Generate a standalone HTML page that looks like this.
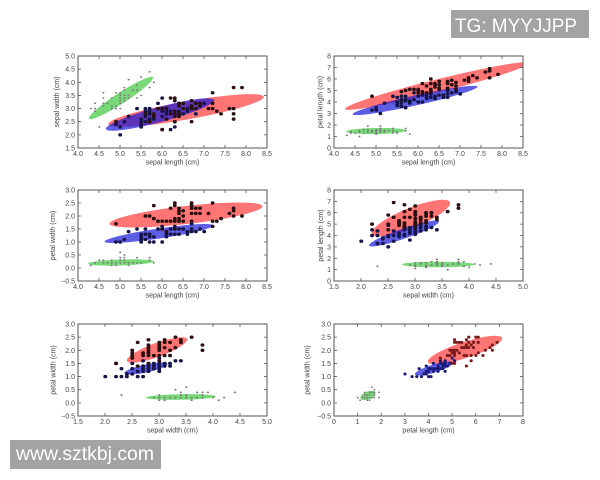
<!DOCTYPE html>
<html><head><meta charset="utf-8"><style>
html,body{margin:0;padding:0;background:#fff;}
svg{display:block;}
text{font-family:"Liberation Sans","DejaVu Sans",sans-serif;}
.tk{font-size:7px;fill:#444;}
.tt{font-size:7px;fill:#444;}
.s{fill:none;stroke:#7a7a7a;stroke-width:1.7;stroke-linecap:round;vector-effect:non-scaling-stroke;}
.v{fill:none;stroke:#15154a;stroke-width:3.4;stroke-linecap:round;vector-effect:non-scaling-stroke;}
.g{fill:none;stroke:#2a1010;stroke-width:3.4;stroke-linecap:round;vector-effect:non-scaling-stroke;}
.fr{fill:none;stroke:#555;stroke-width:1;}
.ti{fill:none;stroke:#555;stroke-width:.8;}
.er{fill:#ff2a2a;fill-opacity:.65;}
.eb{fill:#1a1ad8;fill-opacity:.7;}
.eg{fill:#20c020;fill-opacity:.6;}
</style></head><body>
<svg width="600" height="480" viewBox="0 0 600 480" xmlns="http://www.w3.org/2000/svg">
<defs>
<clipPath id="c1"><rect x="78" y="56" width="189" height="92"/></clipPath>
<clipPath id="c2"><rect x="334" y="56" width="189" height="92"/></clipPath>
<clipPath id="c3"><rect x="78" y="190" width="189" height="91"/></clipPath>
<clipPath id="c4"><rect x="334" y="190" width="189" height="91"/></clipPath>
<clipPath id="c5"><rect x="78" y="324" width="189" height="92"/></clipPath>
<clipPath id="c6"><rect x="334" y="324" width="189" height="92"/></clipPath>
</defs>
<rect width="600" height="480" fill="#fff"/>

<!-- PANEL 1 -->
<g clip-path="url(#c1)">
<ellipse class="er" cx="186" cy="110.5" rx="79" ry="9" transform="rotate(-10 186 110.5)"/>
<ellipse class="eb" cx="160" cy="114.5" rx="56" ry="7.5" transform="rotate(-15 160 114.5)"/>
<ellipse class="eg" cx="121" cy="98" rx="38" ry="5.5" transform="rotate(-33 121 98)"/>
<g transform="translate(78,148) scale(42,-26.286) translate(-4,-1.5)">
<path class="s" vector-effect="non-scaling-stroke" d="M5.1 3.5h.01M4.9 3h.01M4.7 3.2h.01M4.6 3.1h.01M5 3.6h.01M5.4 3.9h.01M4.6 3.4h.01M5 3.4h.01M4.4 2.9h.01M4.9 3.1h.01M5.4 3.7h.01M4.8 3.4h.01M4.8 3h.01M4.3 3h.01M5.8 4h.01M5.7 4.4h.01M5.4 3.9h.01M5.1 3.5h.01M5.7 3.8h.01M5.1 3.8h.01M5.4 3.4h.01M5.1 3.7h.01M4.6 3.6h.01M5.1 3.3h.01M4.8 3.4h.01M5 3h.01M5 3.4h.01M5.2 3.5h.01M5.2 3.4h.01M4.7 3.2h.01M4.8 3.1h.01M5.4 3.4h.01M5.2 4.1h.01M5.5 4.2h.01M4.9 3.1h.01M5 3.2h.01M5.5 3.5h.01M4.9 3.6h.01M4.4 3h.01M5.1 3.4h.01M5 3.5h.01M4.5 2.3h.01M4.4 3.2h.01M5 3.5h.01M5.1 3.8h.01M4.8 3h.01M5.1 3.8h.01M4.6 3.2h.01M5.3 3.7h.01M5 3.3h.01"/>
<path class="v" vector-effect="non-scaling-stroke" d="M7 3.2h.01M6.4 3.2h.01M6.9 3.1h.01M5.5 2.3h.01M6.5 2.8h.01M5.7 2.8h.01M6.3 3.3h.01M4.9 2.4h.01M6.6 2.9h.01M5.2 2.7h.01M5 2h.01M5.9 3h.01M6 2.2h.01M6.1 2.9h.01M5.6 2.9h.01M6.7 3.1h.01M5.6 3h.01M5.8 2.7h.01M6.2 2.2h.01M5.6 2.5h.01M5.9 3.2h.01M6.1 2.8h.01M6.3 2.5h.01M6.1 2.8h.01M6.4 2.9h.01M6.6 3h.01M6.8 2.8h.01M6.7 3h.01M6 2.9h.01M5.7 2.6h.01M5.5 2.4h.01M5.5 2.4h.01M5.8 2.7h.01M6 2.7h.01M5.4 3h.01M6 3.4h.01M6.7 3.1h.01M6.3 2.3h.01M5.6 3h.01M5.5 2.5h.01M5.5 2.6h.01M6.1 3h.01M5.8 2.6h.01M5 2.3h.01M5.6 2.7h.01M5.7 3h.01M5.7 2.9h.01M6.2 2.9h.01M5.1 2.5h.01M5.7 2.8h.01"/>
<path class="g" vector-effect="non-scaling-stroke" d="M6.3 3.3h.01M5.8 2.7h.01M7.1 3h.01M6.3 2.9h.01M6.5 3h.01M7.6 3h.01M4.9 2.5h.01M7.3 2.9h.01M6.7 2.5h.01M7.2 3.6h.01M6.5 3.2h.01M6.4 2.7h.01M6.8 3h.01M5.7 2.5h.01M5.8 2.8h.01M6.4 3.2h.01M6.5 3h.01M7.7 3.8h.01M7.7 2.6h.01M6 2.2h.01M6.9 3.2h.01M5.6 2.8h.01M7.7 2.8h.01M6.3 2.7h.01M6.7 3.3h.01M7.2 3.2h.01M6.2 2.8h.01M6.1 3h.01M6.4 2.8h.01M7.2 3h.01M7.4 2.8h.01M7.9 3.8h.01M6.4 2.8h.01M6.3 2.8h.01M6.1 2.6h.01M7.7 3h.01M6.3 3.4h.01M6.4 3.1h.01M6 3h.01M6.9 3.1h.01M6.7 3.1h.01M6.9 3.1h.01M5.8 2.7h.01M6.8 3.2h.01M6.7 3.3h.01M6.7 3h.01M6.3 2.5h.01M6.5 3h.01M6.2 3.4h.01M5.9 3h.01"/>
</g></g>
<rect class="fr" x="78" y="56" width="189" height="92"/>
<path class="ti" d="M99 148v-3M120 148v-3M141 148v-3M162 148v-3M183 148v-3M204 148v-3M225 148v-3M246 148v-3M99 56v3M120 56v3M141 56v3M162 56v3M183 56v3M204 56v3M225 56v3M246 56v3M78 134.86h3M78 121.71h3M78 108.57h3M78 95.43h3M78 82.29h3M78 69.14h3M267 134.86h-3M267 121.71h-3M267 108.57h-3M267 95.43h-3M267 82.29h-3M267 69.14h-3"/>
<g class="tk" text-anchor="middle"><text x="78" y="156">4.0</text><text x="99" y="156">4.5</text><text x="120" y="156">5.0</text><text x="141" y="156">5.5</text><text x="162" y="156">6.0</text><text x="183" y="156">6.5</text><text x="204" y="156">7.0</text><text x="225" y="156">7.5</text><text x="246" y="156">8.0</text><text x="267" y="156">8.5</text></g>
<g class="tk" text-anchor="end"><text x="75" y="150.5">1.5</text><text x="75" y="137.4">2.0</text><text x="75" y="124.2">2.5</text><text x="75" y="111.1">3.0</text><text x="75" y="97.9">3.5</text><text x="75" y="84.8">4.0</text><text x="75" y="71.6">4.5</text><text x="75" y="58.5">5.0</text></g>
<text class="tt" x="172.5" y="164.5" text-anchor="middle">sepal length (cm)</text>
<text class="tt" x="59" y="102" text-anchor="middle" transform="rotate(-90 59 102)">sepal width (cm)</text>

<!-- PANEL 2 -->
<g clip-path="url(#c2)">
<ellipse class="er" cx="437" cy="86" rx="95" ry="6.5" transform="rotate(-14 437 86)"/>
<ellipse class="eb" cx="415" cy="100.5" rx="64" ry="5" transform="rotate(-12.5 415 100.5)"/>
<ellipse class="eg" cx="376" cy="131" rx="30" ry="3" transform="rotate(-1 376 131)"/>
<g transform="translate(334,148) scale(42,-11.5) translate(-4,0)">
<path class="s" vector-effect="non-scaling-stroke" d="M5.1 1.4h.01M4.9 1.4h.01M4.7 1.3h.01M4.6 1.5h.01M5 1.4h.01M5.4 1.7h.01M4.6 1.4h.01M5 1.5h.01M4.4 1.4h.01M4.9 1.5h.01M5.4 1.5h.01M4.8 1.6h.01M4.8 1.4h.01M4.3 1.1h.01M5.8 1.2h.01M5.7 1.5h.01M5.4 1.3h.01M5.1 1.4h.01M5.7 1.7h.01M5.1 1.5h.01M5.4 1.7h.01M5.1 1.5h.01M4.6 1h.01M5.1 1.7h.01M4.8 1.9h.01M5 1.6h.01M5 1.6h.01M5.2 1.5h.01M5.2 1.4h.01M4.7 1.6h.01M4.8 1.6h.01M5.4 1.5h.01M5.2 1.5h.01M5.5 1.4h.01M4.9 1.5h.01M5 1.2h.01M5.5 1.3h.01M4.9 1.4h.01M4.4 1.3h.01M5.1 1.5h.01M5 1.3h.01M4.5 1.3h.01M4.4 1.3h.01M5 1.6h.01M5.1 1.9h.01M4.8 1.4h.01M5.1 1.6h.01M4.6 1.4h.01M5.3 1.5h.01M5 1.4h.01"/>
<path class="v" vector-effect="non-scaling-stroke" d="M7 4.7h.01M6.4 4.5h.01M6.9 4.9h.01M5.5 4h.01M6.5 4.6h.01M5.7 4.5h.01M6.3 4.7h.01M4.9 3.3h.01M6.6 4.6h.01M5.2 3.9h.01M5 3.5h.01M5.9 4.2h.01M6 4h.01M6.1 4.7h.01M5.6 3.6h.01M6.7 4.4h.01M5.6 4.5h.01M5.8 4.1h.01M6.2 4.5h.01M5.6 3.9h.01M5.9 4.8h.01M6.1 4h.01M6.3 4.9h.01M6.1 4.7h.01M6.4 4.3h.01M6.6 4.4h.01M6.8 4.8h.01M6.7 5h.01M6 4.5h.01M5.7 3.5h.01M5.5 3.8h.01M5.5 3.7h.01M5.8 3.9h.01M6 5.1h.01M5.4 4.5h.01M6 4.5h.01M6.7 4.7h.01M6.3 4.4h.01M5.6 4.1h.01M5.5 4h.01M5.5 4.4h.01M6.1 4.6h.01M5.8 4h.01M5 3.3h.01M5.6 4.2h.01M5.7 4.2h.01M5.7 4.2h.01M6.2 4.3h.01M5.1 3h.01M5.7 4.1h.01"/>
<path class="g" vector-effect="non-scaling-stroke" d="M6.3 6h.01M5.8 5.1h.01M7.1 5.9h.01M6.3 5.6h.01M6.5 5.8h.01M7.6 6.6h.01M4.9 4.5h.01M7.3 6.3h.01M6.7 5.8h.01M7.2 6.1h.01M6.5 5.1h.01M6.4 5.3h.01M6.8 5.5h.01M5.7 5h.01M5.8 5.1h.01M6.4 5.3h.01M6.5 5.5h.01M7.7 6.7h.01M7.7 6.9h.01M6 5h.01M6.9 5.7h.01M5.6 4.9h.01M7.7 6.7h.01M6.3 4.9h.01M6.7 5.7h.01M7.2 6h.01M6.2 4.8h.01M6.1 4.9h.01M6.4 5.6h.01M7.2 5.8h.01M7.4 6.1h.01M7.9 6.4h.01M6.4 5.6h.01M6.3 5.1h.01M6.1 5.6h.01M7.7 6.1h.01M6.3 5.6h.01M6.4 5.5h.01M6 4.8h.01M6.9 5.4h.01M6.7 5.6h.01M6.9 5.1h.01M5.8 5.1h.01M6.8 5.9h.01M6.7 5.7h.01M6.7 5.2h.01M6.3 5h.01M6.5 5.2h.01M6.2 5.4h.01M5.9 5.1h.01"/>
</g></g>
<rect class="fr" x="334" y="56" width="189" height="92"/>
<path class="ti" d="M355 148v-3M376 148v-3M397 148v-3M418 148v-3M439 148v-3M460 148v-3M481 148v-3M502 148v-3M355 56v3M376 56v3M397 56v3M418 56v3M439 56v3M460 56v3M481 56v3M502 56v3M334 136.5h3M334 125h3M334 113.5h3M334 102h3M334 90.5h3M334 79h3M334 67.5h3M523 136.5h-3M523 125h-3M523 113.5h-3M523 102h-3M523 90.5h-3M523 79h-3M523 67.5h-3"/>
<g class="tk" text-anchor="middle"><text x="334" y="156">4.0</text><text x="355" y="156">4.5</text><text x="376" y="156">5.0</text><text x="397" y="156">5.5</text><text x="418" y="156">6.0</text><text x="439" y="156">6.5</text><text x="460" y="156">7.0</text><text x="481" y="156">7.5</text><text x="502" y="156">8.0</text><text x="523" y="156">8.5</text></g>
<g class="tk" text-anchor="end"><text x="331" y="150.5">0</text><text x="331" y="139">1</text><text x="331" y="127.5">2</text><text x="331" y="116">3</text><text x="331" y="104.5">4</text><text x="331" y="93">5</text><text x="331" y="81.5">6</text><text x="331" y="70">7</text><text x="331" y="58.5">8</text></g>
<text class="tt" x="428.5" y="164.5" text-anchor="middle">sepal length (cm)</text>
<text class="tt" x="322.5" y="102" text-anchor="middle" transform="rotate(-90 322.5 102)">petal length (cm)</text>

<!-- PANEL 3 -->
<g clip-path="url(#c3)">
<ellipse class="er" cx="186" cy="215" rx="77" ry="9" transform="rotate(-6.5 186 215)"/>
<ellipse class="eb" cx="159" cy="233.5" rx="55" ry="5" transform="rotate(-8.5 159 233.5)"/>
<ellipse class="eg" cx="121" cy="262.5" rx="33" ry="3" transform="rotate(-2 121 262.5)"/>
<g transform="translate(78,281) scale(42,-26) translate(-4,0.5)">
<path class="s" vector-effect="non-scaling-stroke" d="M5.1 .2h.01M4.9 .2h.01M4.7 .2h.01M4.6 .2h.01M5 .2h.01M5.4 .4h.01M4.6 .3h.01M5 .2h.01M4.4 .2h.01M4.9 .1h.01M5.4 .2h.01M4.8 .2h.01M4.8 .1h.01M4.3 .1h.01M5.8 .2h.01M5.7 .4h.01M5.4 .4h.01M5.1 .3h.01M5.7 .3h.01M5.1 .3h.01M5.4 .2h.01M5.1 .4h.01M4.6 .2h.01M5.1 .5h.01M4.8 .2h.01M5 .2h.01M5 .4h.01M5.2 .2h.01M5.2 .2h.01M4.7 .2h.01M4.8 .2h.01M5.4 .4h.01M5.2 .1h.01M5.5 .2h.01M4.9 .2h.01M5 .2h.01M5.5 .2h.01M4.9 .1h.01M4.4 .2h.01M5.1 .2h.01M5 .3h.01M4.5 .3h.01M4.4 .2h.01M5 .6h.01M5.1 .4h.01M4.8 .3h.01M5.1 .2h.01M4.6 .2h.01M5.3 .2h.01M5 .2h.01"/>
<path class="v" vector-effect="non-scaling-stroke" d="M7 1.4h.01M6.4 1.5h.01M6.9 1.5h.01M5.5 1.3h.01M6.5 1.5h.01M5.7 1.3h.01M6.3 1.6h.01M4.9 1h.01M6.6 1.3h.01M5.2 1.4h.01M5 1h.01M5.9 1.5h.01M6 1h.01M6.1 1.4h.01M5.6 1.3h.01M6.7 1.4h.01M5.6 1.5h.01M5.8 1h.01M6.2 1.5h.01M5.6 1.1h.01M5.9 1.8h.01M6.1 1.3h.01M6.3 1.5h.01M6.1 1.2h.01M6.4 1.3h.01M6.6 1.4h.01M6.8 1.4h.01M6.7 1.7h.01M6 1.5h.01M5.7 1h.01M5.5 1.1h.01M5.5 1h.01M5.8 1.2h.01M6 1.6h.01M5.4 1.5h.01M6 1.6h.01M6.7 1.5h.01M6.3 1.3h.01M5.6 1.3h.01M5.5 1.3h.01M5.5 1.2h.01M6.1 1.4h.01M5.8 1.2h.01M5 1h.01M5.6 1.3h.01M5.7 1.2h.01M5.7 1.3h.01M6.2 1.3h.01M5.1 1.1h.01M5.7 1.3h.01"/>
<path class="g" vector-effect="non-scaling-stroke" d="M6.3 2.5h.01M5.8 1.9h.01M7.1 2.1h.01M6.3 1.8h.01M6.5 2.2h.01M7.6 2.1h.01M4.9 1.7h.01M7.3 1.8h.01M6.7 1.8h.01M7.2 2.5h.01M6.5 2h.01M6.4 1.9h.01M6.8 2.1h.01M5.7 2h.01M5.8 2.4h.01M6.4 2.3h.01M6.5 1.8h.01M7.7 2.2h.01M7.7 2.3h.01M6 1.5h.01M6.9 2.3h.01M5.6 2h.01M7.7 2h.01M6.3 1.8h.01M6.7 2.1h.01M7.2 1.8h.01M6.2 1.8h.01M6.1 1.8h.01M6.4 2.1h.01M7.2 1.6h.01M7.4 1.9h.01M7.9 2h.01M6.4 2.2h.01M6.3 1.5h.01M6.1 1.4h.01M7.7 2.3h.01M6.3 2.4h.01M6.4 1.8h.01M6 1.8h.01M6.9 2.1h.01M6.7 2.4h.01M6.9 2.3h.01M5.8 1.9h.01M6.8 2.3h.01M6.7 2.5h.01M6.7 2.3h.01M6.3 1.9h.01M6.5 2h.01M6.2 2.3h.01M5.9 1.8h.01"/>
</g></g>
<rect class="fr" x="78" y="190" width="189" height="91"/>
<path class="ti" d="M99 281v-3M120 281v-3M141 281v-3M162 281v-3M183 281v-3M204 281v-3M225 281v-3M246 281v-3M99 190v3M120 190v3M141 190v3M162 190v3M183 190v3M204 190v3M225 190v3M246 190v3M78 268h3M78 255h3M78 242h3M78 229h3M78 216h3M78 203h3M267 268h-3M267 255h-3M267 242h-3M267 229h-3M267 216h-3M267 203h-3"/>
<g class="tk" text-anchor="middle"><text x="78" y="289">4.0</text><text x="99" y="289">4.5</text><text x="120" y="289">5.0</text><text x="141" y="289">5.5</text><text x="162" y="289">6.0</text><text x="183" y="289">6.5</text><text x="204" y="289">7.0</text><text x="225" y="289">7.5</text><text x="246" y="289">8.0</text><text x="267" y="289">8.5</text></g>
<g class="tk" text-anchor="end"><text x="75" y="283.5">−0.5</text><text x="75" y="270.5">0.0</text><text x="75" y="257.5">0.5</text><text x="75" y="244.5">1.0</text><text x="75" y="231.5">1.5</text><text x="75" y="218.5">2.0</text><text x="75" y="205.5">2.5</text><text x="75" y="192.5">3.0</text></g>
<text class="tt" x="172.5" y="297.5" text-anchor="middle">sepal length (cm)</text>
<text class="tt" x="55" y="235.5" text-anchor="middle" transform="rotate(-90 55 235.5)">petal width (cm)</text>

<!-- PANEL 4 -->
<g clip-path="url(#c4)">
<ellipse class="er" cx="411" cy="218" rx="42" ry="10" transform="rotate(-22 411 218)"/>
<ellipse class="eb" cx="404" cy="233.5" rx="37" ry="5" transform="rotate(-19 404 233.5)"/>
<ellipse class="eg" cx="438" cy="264.5" rx="36" ry="2.8"/>
<g transform="translate(334,281) scale(54,-11.375) translate(-1.5,0)">
<path class="s" vector-effect="non-scaling-stroke" d="M3.5 1.4h.01M3 1.4h.01M3.2 1.3h.01M3.1 1.5h.01M3.6 1.4h.01M3.9 1.7h.01M3.4 1.4h.01M3.4 1.5h.01M2.9 1.4h.01M3.1 1.5h.01M3.7 1.5h.01M3.4 1.6h.01M3 1.4h.01M3 1.1h.01M4 1.2h.01M4.4 1.5h.01M3.9 1.3h.01M3.5 1.4h.01M3.8 1.7h.01M3.8 1.5h.01M3.4 1.7h.01M3.7 1.5h.01M3.6 1h.01M3.3 1.7h.01M3.4 1.9h.01M3 1.6h.01M3.4 1.6h.01M3.5 1.5h.01M3.4 1.4h.01M3.2 1.6h.01M3.1 1.6h.01M3.4 1.5h.01M4.1 1.5h.01M4.2 1.4h.01M3.1 1.5h.01M3.2 1.2h.01M3.5 1.3h.01M3.6 1.4h.01M3 1.3h.01M3.4 1.5h.01M3.5 1.3h.01M2.3 1.3h.01M3.2 1.3h.01M3.5 1.6h.01M3.8 1.9h.01M3 1.4h.01M3.8 1.6h.01M3.2 1.4h.01M3.7 1.5h.01M3.3 1.4h.01"/>
<path class="v" vector-effect="non-scaling-stroke" d="M3.2 4.7h.01M3.2 4.5h.01M3.1 4.9h.01M2.3 4h.01M2.8 4.6h.01M2.8 4.5h.01M3.3 4.7h.01M2.4 3.3h.01M2.9 4.6h.01M2.7 3.9h.01M2 3.5h.01M3 4.2h.01M2.2 4h.01M2.9 4.7h.01M2.9 3.6h.01M3.1 4.4h.01M3 4.5h.01M2.7 4.1h.01M2.2 4.5h.01M2.5 3.9h.01M3.2 4.8h.01M2.8 4h.01M2.5 4.9h.01M2.8 4.7h.01M2.9 4.3h.01M3 4.4h.01M2.8 4.8h.01M3 5h.01M2.9 4.5h.01M2.6 3.5h.01M2.4 3.8h.01M2.4 3.7h.01M2.7 3.9h.01M2.7 5.1h.01M3 4.5h.01M3.4 4.5h.01M3.1 4.7h.01M2.3 4.4h.01M3 4.1h.01M2.5 4h.01M2.6 4.4h.01M3 4.6h.01M2.6 4h.01M2.3 3.3h.01M2.7 4.2h.01M3 4.2h.01M2.9 4.2h.01M2.9 4.3h.01M2.5 3h.01M2.8 4.1h.01"/>
<path class="g" vector-effect="non-scaling-stroke" d="M3.3 6h.01M2.7 5.1h.01M3 5.9h.01M2.9 5.6h.01M3 5.8h.01M3 6.6h.01M2.5 4.5h.01M2.9 6.3h.01M2.5 5.8h.01M3.6 6.1h.01M3.2 5.1h.01M2.7 5.3h.01M3 5.5h.01M2.5 5h.01M2.8 5.1h.01M3.2 5.3h.01M3 5.5h.01M3.8 6.7h.01M2.6 6.9h.01M2.2 5h.01M3.2 5.7h.01M2.8 4.9h.01M2.8 6.7h.01M2.7 4.9h.01M3.3 5.7h.01M3.2 6h.01M2.8 4.8h.01M3 4.9h.01M2.8 5.6h.01M3 5.8h.01M2.8 6.1h.01M3.8 6.4h.01M2.8 5.6h.01M2.8 5.1h.01M2.6 5.6h.01M3 6.1h.01M3.4 5.6h.01M3.1 5.5h.01M3 4.8h.01M3.1 5.4h.01M3.1 5.6h.01M3.1 5.1h.01M2.7 5.1h.01M3.2 5.9h.01M3.3 5.7h.01M3 5.2h.01M2.5 5h.01M3 5.2h.01M3.4 5.4h.01M3 5.1h.01"/>
</g></g>
<rect class="fr" x="334" y="190" width="189" height="91"/>
<path class="ti" d="M361 281v-3M388 281v-3M415 281v-3M442 281v-3M469 281v-3M496 281v-3M361 190v3M388 190v3M415 190v3M442 190v3M469 190v3M496 190v3M334 269.6h3M334 258.25h3M334 246.9h3M334 235.5h3M334 224.1h3M334 212.75h3M334 201.4h3M523 269.6h-3M523 258.25h-3M523 246.9h-3M523 235.5h-3M523 224.1h-3M523 212.75h-3M523 201.4h-3"/>
<g class="tk" text-anchor="middle"><text x="334" y="289">1.5</text><text x="361" y="289">2.0</text><text x="388" y="289">2.5</text><text x="415" y="289">3.0</text><text x="442" y="289">3.5</text><text x="469" y="289">4.0</text><text x="496" y="289">4.5</text><text x="523" y="289">5.0</text></g>
<g class="tk" text-anchor="end"><text x="331" y="283.5">0</text><text x="331" y="272.1">1</text><text x="331" y="260.75">2</text><text x="331" y="249.4">3</text><text x="331" y="238">4</text><text x="331" y="226.6">5</text><text x="331" y="215.25">6</text><text x="331" y="203.9">7</text><text x="331" y="192.5">8</text></g>
<text class="tt" x="428.5" y="297.5" text-anchor="middle">sepal width (cm)</text>
<text class="tt" x="323" y="235.5" text-anchor="middle" transform="rotate(-90 323 235.5)">petal length (cm)</text>

<!-- PANEL 5 -->
<g clip-path="url(#c5)">
<ellipse class="er" cx="157" cy="350" rx="32" ry="7" transform="rotate(-20 157 350)"/>
<ellipse class="eb" cx="146" cy="368.5" rx="22" ry="4" transform="rotate(-12 146 368.5)"/>
<ellipse class="eg" cx="181" cy="397" rx="35" ry="2.8" transform="rotate(-1 181 397)"/>
<g transform="translate(78,416) scale(54,-26.286) translate(-1.5,0.5)">
<path class="s" vector-effect="non-scaling-stroke" d="M3.5 .2h.01M3 .2h.01M3.2 .2h.01M3.1 .2h.01M3.6 .2h.01M3.9 .4h.01M3.4 .3h.01M3.4 .2h.01M2.9 .2h.01M3.1 .1h.01M3.7 .2h.01M3.4 .2h.01M3 .1h.01M3 .1h.01M4 .2h.01M4.4 .4h.01M3.9 .4h.01M3.5 .3h.01M3.8 .3h.01M3.8 .3h.01M3.4 .2h.01M3.7 .4h.01M3.6 .2h.01M3.3 .5h.01M3.4 .2h.01M3 .2h.01M3.4 .4h.01M3.5 .2h.01M3.4 .2h.01M3.2 .2h.01M3.1 .2h.01M3.4 .4h.01M4.1 .1h.01M4.2 .2h.01M3.1 .2h.01M3.2 .2h.01M3.5 .2h.01M3.6 .1h.01M3 .2h.01M3.4 .2h.01M3.5 .3h.01M2.3 .3h.01M3.2 .2h.01M3.5 .6h.01M3.8 .4h.01M3 .3h.01M3.8 .2h.01M3.2 .2h.01M3.7 .2h.01M3.3 .2h.01"/>
<path class="v" vector-effect="non-scaling-stroke" d="M3.2 1.4h.01M3.2 1.5h.01M3.1 1.5h.01M2.3 1.3h.01M2.8 1.5h.01M2.8 1.3h.01M3.3 1.6h.01M2.4 1h.01M2.9 1.3h.01M2.7 1.4h.01M2 1h.01M3 1.5h.01M2.2 1h.01M2.9 1.4h.01M2.9 1.3h.01M3.1 1.4h.01M3 1.5h.01M2.7 1h.01M2.2 1.5h.01M2.5 1.1h.01M3.2 1.8h.01M2.8 1.3h.01M2.5 1.5h.01M2.8 1.2h.01M2.9 1.3h.01M3 1.4h.01M2.8 1.4h.01M3 1.7h.01M2.9 1.5h.01M2.6 1h.01M2.4 1.1h.01M2.4 1h.01M2.7 1.2h.01M2.7 1.6h.01M3 1.5h.01M3.4 1.6h.01M3.1 1.5h.01M2.3 1.3h.01M3 1.3h.01M2.5 1.3h.01M2.6 1.2h.01M3 1.4h.01M2.6 1.2h.01M2.3 1h.01M2.7 1.3h.01M3 1.2h.01M2.9 1.3h.01M2.9 1.3h.01M2.5 1.1h.01M2.8 1.3h.01"/>
<path class="g" vector-effect="non-scaling-stroke" d="M3.3 2.5h.01M2.7 1.9h.01M3 2.1h.01M2.9 1.8h.01M3 2.2h.01M3 2.1h.01M2.5 1.7h.01M2.9 1.8h.01M2.5 1.8h.01M3.6 2.5h.01M3.2 2h.01M2.7 1.9h.01M3 2.1h.01M2.5 2h.01M2.8 2.4h.01M3.2 2.3h.01M3 1.8h.01M3.8 2.2h.01M2.6 2.3h.01M2.2 1.5h.01M3.2 2.3h.01M2.8 2h.01M2.8 2h.01M2.7 1.8h.01M3.3 2.1h.01M3.2 1.8h.01M2.8 1.8h.01M3 1.8h.01M2.8 2.1h.01M3 1.6h.01M2.8 1.9h.01M3.8 2h.01M2.8 2.2h.01M2.8 1.5h.01M2.6 1.4h.01M3 2.3h.01M3.4 2.4h.01M3.1 1.8h.01M3 1.8h.01M3.1 2.1h.01M3.1 2.4h.01M3.1 2.3h.01M2.7 1.9h.01M3.2 2.3h.01M3.3 2.5h.01M3 2.3h.01M2.5 1.9h.01M3 2h.01M3.4 2.3h.01M3 1.8h.01"/>
</g></g>
<rect class="fr" x="78" y="324" width="189" height="92"/>
<path class="ti" d="M105 416v-3M132 416v-3M159 416v-3M186 416v-3M213 416v-3M240 416v-3M105 324v3M132 324v3M159 324v3M186 324v3M213 324v3M240 324v3M78 402.86h3M78 389.71h3M78 376.57h3M78 363.43h3M78 350.29h3M78 337.14h3M267 402.86h-3M267 389.71h-3M267 376.57h-3M267 363.43h-3M267 350.29h-3M267 337.14h-3"/>
<g class="tk" text-anchor="middle"><text x="78" y="424">1.5</text><text x="105" y="424">2.0</text><text x="132" y="424">2.5</text><text x="159" y="424">3.0</text><text x="186" y="424">3.5</text><text x="213" y="424">4.0</text><text x="240" y="424">4.5</text><text x="267" y="424">5.0</text></g>
<g class="tk" text-anchor="end"><text x="75" y="418.5">−0.5</text><text x="75" y="405.4">0.0</text><text x="75" y="392.2">0.5</text><text x="75" y="379.1">1.0</text><text x="75" y="365.9">1.5</text><text x="75" y="352.8">2.0</text><text x="75" y="339.6">2.5</text><text x="75" y="326.5">3.0</text></g>
<text class="tt" x="172.5" y="432.5" text-anchor="middle">sepal width (cm)</text>
<text class="tt" x="55.5" y="370" text-anchor="middle" transform="rotate(-90 55.5 370)">petal width (cm)</text>

<!-- PANEL 6 -->
<g clip-path="url(#c6)">
<ellipse class="er" cx="465" cy="350" rx="39" ry="8" transform="rotate(-18 465 350)"/>
<ellipse class="eb" cx="434" cy="368.5" rx="20" ry="4" transform="rotate(-17 434 368.5)"/>
<ellipse class="eg" cx="368" cy="395.5" rx="8" ry="4" transform="rotate(-20 368 395.5)"/>
<g transform="translate(334,416) scale(23.625,-26.286) translate(0,0.5)">
<path class="s" vector-effect="non-scaling-stroke" d="M1.4 .2h.01M1.3 .2h.01M1.5 .2h.01M1.7 .4h.01M1.4 .3h.01M1.5 .1h.01M1.6 .2h.01M1.4 .1h.01M1.1 .1h.01M1.2 .2h.01M1.5 .4h.01M1.3 .4h.01M1.7 .3h.01M1.5 .3h.01M1.7 .2h.01M1 .2h.01M1.7 .5h.01M1.9 .2h.01M1.6 .4h.01M1.5 .2h.01M1.3 .3h.01M1.6 .6h.01M1.9 .4h.01M1.4 .2h.01"/>
<path class="v" style="stroke:#1c1c78;stroke-width:3" vector-effect="non-scaling-stroke" d="M4.7 1.4h.01M4.5 1.5h.01M4.9 1.5h.01M4 1.3h.01M4.6 1.5h.01M4.5 1.3h.01M4.7 1.6h.01M3.3 1h.01M4.6 1.3h.01M3.9 1.4h.01M3.5 1h.01M4.2 1.5h.01M4 1h.01M4.7 1.4h.01M3.6 1.3h.01M4.4 1.4h.01M4.5 1.5h.01M4.1 1h.01M4.5 1.5h.01M3.9 1.1h.01M4.8 1.8h.01M4 1.3h.01M4.9 1.5h.01M4.7 1.2h.01M4.3 1.3h.01M4.4 1.4h.01M4.8 1.4h.01M5 1.7h.01M4.5 1.5h.01M3.5 1h.01M3.8 1.1h.01M3.7 1h.01M3.9 1.2h.01M5.1 1.6h.01M4.5 1.5h.01M4.5 1.6h.01M4.7 1.5h.01M4.4 1.3h.01M4.1 1.3h.01M4 1.3h.01M4.4 1.2h.01M4.6 1.4h.01M4 1.2h.01M3.3 1h.01M4.2 1.3h.01M4.2 1.2h.01M4.2 1.3h.01M4.3 1.3h.01M3 1.1h.01M4.1 1.3h.01"/>
<path class="g" style="stroke:#7a1c1c;stroke-width:3" vector-effect="non-scaling-stroke" d="M6 2.5h.01M5.1 1.9h.01M5.9 2.1h.01M5.6 1.8h.01M5.8 2.2h.01M6.6 2.1h.01M4.5 1.7h.01M6.3 1.8h.01M5.8 1.8h.01M6.1 2.5h.01M5.1 2h.01M5.3 1.9h.01M5.5 2.1h.01M5 2h.01M5.1 2.4h.01M5.3 2.3h.01M5.5 1.8h.01M6.7 2.2h.01M6.9 2.3h.01M5 1.5h.01M5.7 2.3h.01M4.9 2h.01M6.7 2h.01M4.9 1.8h.01M5.7 2.1h.01M6 1.8h.01M4.8 1.8h.01M4.9 1.8h.01M5.6 2.1h.01M5.8 1.6h.01M6.1 1.9h.01M6.4 2h.01M5.6 2.2h.01M5.1 1.5h.01M5.6 1.4h.01M6.1 2.3h.01M5.6 2.4h.01M5.5 1.8h.01M4.8 1.8h.01M5.4 2.1h.01M5.6 2.4h.01M5.1 2.3h.01M5.1 1.9h.01M5.9 2.3h.01M5.7 2.5h.01M5.2 2.3h.01M5 1.9h.01M5.2 2h.01M5.4 2.3h.01M5.1 1.8h.01"/>
</g></g>
<rect class="fr" x="334" y="324" width="189" height="92"/>
<path class="ti" d="M357.6 416v-3M381.25 416v-3M404.9 416v-3M428.5 416v-3M452.1 416v-3M475.75 416v-3M499.4 416v-3M357.6 324v3M381.25 324v3M404.9 324v3M428.5 324v3M452.1 324v3M475.75 324v3M499.4 324v3M334 402.86h3M334 389.71h3M334 376.57h3M334 363.43h3M334 350.29h3M334 337.14h3M523 402.86h-3M523 389.71h-3M523 376.57h-3M523 363.43h-3M523 350.29h-3M523 337.14h-3"/>
<g class="tk" text-anchor="middle"><text x="334" y="424">0</text><text x="357.6" y="424">1</text><text x="381.25" y="424">2</text><text x="404.9" y="424">3</text><text x="428.5" y="424">4</text><text x="452.1" y="424">5</text><text x="475.75" y="424">6</text><text x="499.4" y="424">7</text><text x="523" y="424">8</text></g>
<g class="tk" text-anchor="end"><text x="331" y="418.5">−0.5</text><text x="331" y="405.4">0.0</text><text x="331" y="392.2">0.5</text><text x="331" y="379.1">1.0</text><text x="331" y="365.9">1.5</text><text x="331" y="352.8">2.0</text><text x="331" y="339.6">2.5</text><text x="331" y="326.5">3.0</text></g>
<text class="tt" x="428.5" y="432.5" text-anchor="middle">petal length (cm)</text>
<text class="tt" x="309.5" y="370" text-anchor="middle" transform="rotate(-90 309.5 370)">petal width (cm)</text>

<!-- watermarks -->
<rect x="451" y="10" width="138" height="28" fill="#a3a3a3"/>
<text x="455" y="32" font-size="19" fill="#fff" textLength="122" lengthAdjust="spacingAndGlyphs">TG: MYYJJPP</text>
<rect x="10" y="440" width="151" height="29" fill="#a3a3a3"/>
<text x="16" y="460" font-size="19" fill="#fff" textLength="138" lengthAdjust="spacingAndGlyphs">www.sztkbj.com</text>
</svg>
</body></html>
